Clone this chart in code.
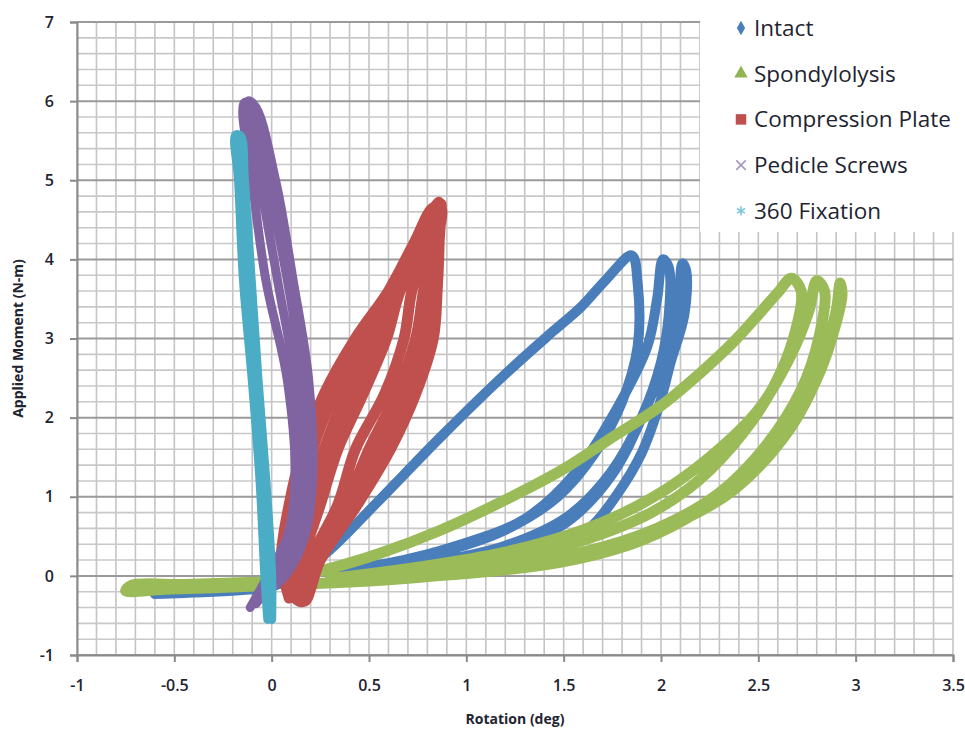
<!DOCTYPE html>
<html>
<head>
<meta charset="utf-8">
<script src="https://cdn.jsdelivr.net/npm/d3@7"></script>
<style>
  body { margin: 0; background: #fff; }
  text { font-family: 'Open Sans', sans-serif; }
</style>
</head>
<body>
<div id="chart"></div>
<script>
// Data: [rotation (deg), moment (N-m)]
let xTicks = [-1, -0.5, 0, 0.5, 1, 1.5, 2, 2.5, 3, 3.5]
let yTicks = [-1, 0, 1, 2, 3, 4, 5, 6, 7]

let intact = [
  [-0.6, -0.23], [-0.4, -0.21], [-0.15, -0.18], [0.02, -0.12], [0.15, 0.05], [0.3, 0.33],
  [0.55, 0.95], [0.87, 1.76], [1.2, 2.55], [1.45, 3.1], [1.59, 3.4], [1.72, 3.75], [1.85, 4.05],
  [1.88, 3.7], [1.88, 2.9], [1.8, 2.2], [1.66, 1.55], [1.47, 1.0], [1.2, 0.58], [0.9, 0.32],
  [0.55, 0.14], [0.3, 0.06],
  [0.6, 0.16], [0.95, 0.38], [1.3, 0.72], [1.56, 1.3], [1.77, 2.1], [1.93, 2.9], [1.98, 3.5], [2.01, 4.0],
  [2.04, 3.9], [2.04, 3.3], [2.0, 2.7], [1.9, 2.0], [1.74, 1.3], [1.52, 0.75], [1.2, 0.38],
  [0.8, 0.16], [0.45, 0.06],
  [0.8, 0.12], [1.15, 0.3], [1.5, 0.65], [1.74, 1.25], [1.92, 2.1], [2.04, 2.9], [2.09, 3.5], [2.11, 3.95],
  [2.13, 3.85], [2.12, 3.3], [2.05, 2.7], [1.99, 2.15], [1.9, 1.55], [1.78, 1.05], [1.63, 0.6],
  [1.4, 0.33], [1.05, 0.15], [0.6, 0.04]
]

let spondylolysis = [
  [0, -0.12], [-0.3, -0.15], [-0.55, -0.17], [-0.75, -0.19], [-0.72, -0.12], [-0.45, -0.11],
  [-0.2, -0.09], [0.05, -0.06],
  [0.25, 0.06], [0.55, 0.28], [0.87, 0.58], [1.2, 0.96], [1.5, 1.35], [1.73, 1.72], [2.0, 2.15],
  [2.2, 2.56], [2.37, 2.95], [2.5, 3.3], [2.6, 3.58], [2.67, 3.76],
  [2.72, 3.6], [2.68, 3.0], [2.58, 2.4], [2.42, 1.8], [2.2, 1.22], [1.95, 0.8], [1.6, 0.45],
  [1.2, 0.2], [0.7, 0.05], [0.3, -0.04],
  [0.7, 0.09], [1.2, 0.3], [1.6, 0.58], [1.95, 0.98], [2.25, 1.5], [2.5, 2.1], [2.67, 2.8],
  [2.76, 3.35], [2.8, 3.73],
  [2.84, 3.6], [2.81, 3.0], [2.72, 2.35], [2.54, 1.65], [2.3, 1.05], [1.98, 0.6], [1.6, 0.3],
  [1.05, 0.09], [0.5, -0.04],
  [1.0, 0.03], [1.5, 0.18], [1.9, 0.45], [2.2, 0.83], [2.48, 1.4], [2.7, 2.15], [2.84, 2.85],
  [2.9, 3.35], [2.92, 3.7],
  [2.93, 3.55], [2.9, 3.2], [2.82, 2.6], [2.66, 1.85], [2.38, 1.1], [2.04, 0.62], [1.7, 0.3],
  [1.2, 0.1], [0.6, -0.05], [0.2, -0.1]
]

let compressionPlate = [
  [0.09, -0.28], [0.05, 0.2], [0.09, 0.9], [0.16, 1.6], [0.27, 2.3], [0.43, 3.0], [0.6, 3.6], [0.73, 4.2], [0.83, 4.65],
  [0.86, 4.6], [0.86, 4.2], [0.85, 3.6], [0.83, 3.0], [0.74, 2.3], [0.61, 1.6], [0.44, 0.9], [0.25, 0.2], [0.17, -0.3],
  [0.12, -0.25], [0.09, 0.2], [0.14, 0.9], [0.21, 1.6], [0.32, 2.3], [0.46, 3.0], [0.62, 3.6], [0.75, 4.2], [0.84, 4.65],
  [0.87, 4.65], [0.85, 4.2], [0.82, 3.6], [0.79, 3.0], [0.69, 2.3], [0.56, 1.6], [0.41, 0.9], [0.24, 0.2], [0.17, -0.32],
  [0.12, -0.28], [0.12, 0.2], [0.19, 0.9], [0.27, 1.6], [0.38, 2.3], [0.51, 3.0], [0.64, 3.6], [0.76, 4.2], [0.85, 4.7],
  [0.87, 4.7], [0.83, 4.2], [0.78, 3.6], [0.74, 3.0], [0.64, 2.3], [0.5, 1.6], [0.38, 0.9], [0.22, 0.2], [0.16, -0.32],
  [0.13, -0.3], [0.14, 0.2], [0.22, 0.9], [0.3, 1.6], [0.42, 2.3], [0.55, 3.0], [0.65, 3.6], [0.77, 4.2], [0.85, 4.7],
  [0.86, 4.72], [0.8, 4.2], [0.72, 3.6], [0.68, 3.0], [0.58, 2.3], [0.43, 1.6], [0.34, 0.9], [0.2, 0.2], [0.15, -0.3],
  [0.14, -0.3], [0.16, 0.2], [0.25, 0.9], [0.34, 1.6], [0.47, 2.3], [0.59, 3.0], [0.66, 3.6], [0.78, 4.2], [0.86, 4.7]
]

let pedicleScrews = [
  [-0.11, -0.4], [-0.02, 0.0], [0.08, 0.5], [0.12, 1.2], [0.08, 2.48], [-0.03, 3.74], [-0.1, 5.0], [-0.14, 5.98],
  [-0.09, 5.95], [0.02, 5.0], [0.11, 3.74], [0.19, 2.48], [0.21, 1.2], [0.17, 0.5], [0.07, 0.0], [-0.05, -0.25],
  [-0.08, -0.35], [0.02, 0.0], [0.12, 0.5], [0.16, 1.2], [0.12, 2.48], [0.03, 3.74], [-0.06, 5.0], [-0.12, 6.0],
  [-0.1, 5.98], [-0.02, 5.0], [0.08, 3.74], [0.16, 2.48], [0.19, 1.2], [0.15, 0.5], [0.05, 0.0], [-0.06, -0.3]
]

let fixation360 = [
  [-0.02, -0.55], [-0.035, 0], [-0.06, 1.21], [-0.1, 2.48], [-0.145, 3.74], [-0.17, 5.0], [-0.185, 5.57],
  [-0.16, 5.56], [-0.14, 5.0], [-0.105, 3.74], [-0.07, 2.48], [-0.03, 1.21], [0.0, 0], [0.0, -0.55]
]

let seriesNames = ['Intact', 'Spondylolysis', 'Compression Plate', 'Pedicle Screws', '360 Fixation']
let seriesColors = ['#4a7ebb', '#9bbb59', '#c0504d', '#8064a2', '#4bacc6']
let seriesData = [intact, spondylolysis, compressionPlate, pedicleScrews, fixation360]

// Set up margin/height/width
let margin = { top: 22, left: 77, right: 12, bottom: 77 }
let width = 965 - margin.left - margin.right
let height = 732 - margin.top - margin.bottom

let svg = d3
  .select('#chart')
  .append('svg')
  .attr('width', 965)
  .attr('height', 732)

let g = svg
  .append('g')
  .attr('transform', 'translate(' + margin.left + ',' + margin.top + ')')

let xPositionScale = d3
  .scaleLinear()
  .domain([-1, 3.5])
  .range([0, width])
let yPositionScale = d3
  .scaleLinear()
  .domain([-1, 7])
  .range([height, 0])

// grid: vertical every 0.1, horizontal every 0.2, darker at integers
let xGrid = d3.range(-10, 36).map(i => i / 10)
let yGrid = d3.range(-5, 36).map(i => i / 5)

g.selectAll('.vgrid')
  .data(xGrid)
  .enter()
  .append('line')
  .attr('x1', d => xPositionScale(d))
  .attr('x2', d => xPositionScale(d))
  .attr('y1', 0)
  .attr('y2', height)
  .attr('stroke', '#c4c4c4')
  .attr('stroke-width', 1.6)

g.selectAll('.hgrid')
  .data(yGrid)
  .enter()
  .append('line')
  .attr('x1', 0)
  .attr('x2', width)
  .attr('y1', d => yPositionScale(d))
  .attr('y2', d => yPositionScale(d))
  .attr('stroke', d => (Math.abs(d - Math.round(d)) < 1e-6 ? '#9a9a9a' : '#c8c8c8'))
  .attr('stroke-width', d => (Math.abs(d - Math.round(d)) < 1e-6 ? 2 : 1.6))

// axes (plain hyphen for negatives, like the original)
let fmt = d => String(d)

let xAxis = d3
  .axisBottom(xPositionScale)
  .tickValues(xTicks)
  .tickSize(7)
  .tickPadding(18)
  .tickFormat(fmt)
g.append('g')
  .attr('class', 'axis x-axis')
  .attr('transform', 'translate(0,' + height + ')')
  .call(xAxis)

let yAxis = d3
  .axisLeft(yPositionScale)
  .tickValues(yTicks)
  .tickSize(7)
  .tickPadding(16)
  .tickFormat(fmt)
g.append('g')
  .attr('class', 'axis y-axis')
  .call(yAxis)

g.selectAll('.axis path, .axis line')
  .attr('stroke', '#8a8a8a')
  .attr('stroke-width', 2)
g.selectAll('.axis text')
  .attr('font-size', 16)
  .attr('font-weight', 600)
  .attr('fill', '#1e2430')
  .style('font-family', "'Open Sans', sans-serif")

// series lines (dense markers in the original, drawn as thick strokes)
let line = d3
  .line()
  .x(d => xPositionScale(d[0]))
  .y(d => yPositionScale(d[1]))
  .curve(d3.curveCatmullRom.alpha(0.5))

let strokeWidths = [10, 11, 11, 9, 9]

seriesData.forEach((data, i) => {
  g.append('path')
    .datum(data)
    .attr('d', line)
    .attr('fill', 'none')
    .attr('stroke', seriesColors[i])
    .attr('stroke-width', strokeWidths[i])
    .attr('stroke-linejoin', 'round')
    .attr('stroke-linecap', 'round')
})

// legend box covers the top right of the grid
let legend = svg.append('g')
legend
  .append('rect')
  .attr('x', 700)
  .attr('y', 0)
  .attr('width', 265)
  .attr('height', 232)
  .attr('fill', '#fff')

let markerSymbols = [d3.symbolDiamond, d3.symbolTriangle, d3.symbolSquare, d3.symbolTimes, d3.symbolAsterisk]
let markerColors = ['#4a7ebb', '#8fb451', '#c0504d', '#a597c0', '#7ec8d8']

seriesNames.forEach((name, i) => {
  let cy = 28 + i * 45.7
  let sym = d3.symbol().type(markerSymbols[i]).size(i === 2 ? 110 : i === 1 ? 80 : 60)
  legend
    .append('path')
    .attr('d', sym)
    .attr('transform', 'translate(741,' + cy + ')')
    .attr('fill', i >= 3 ? 'none' : markerColors[i])
    .attr('stroke', i >= 3 ? markerColors[i] : 'none')
    .attr('stroke-width', 1.6)
  legend
    .append('text')
    .text(name)
    .attr('x', 754)
    .attr('y', cy)
    .attr('dy', '0.35em')
    .attr('font-size', 22.5)
    .attr('fill', '#1e2430')
})

// axis titles
svg
  .append('text')
  .text('Rotation (deg)')
  .attr('x', margin.left + width / 2)
  .attr('y', 724)
  .attr('text-anchor', 'middle')
  .attr('font-size', 14)
  .attr('font-weight', 'bold')
  .attr('fill', '#1e2430')

svg
  .append('text')
  .text('Applied Moment (N-m)')
  .attr('transform', 'translate(23,' + (margin.top + height / 2) + ') rotate(-90)')
  .attr('text-anchor', 'middle')
  .attr('font-size', 14)
  .attr('font-weight', 'bold')
  .attr('fill', '#1e2430')
</script>
</body>
</html>
